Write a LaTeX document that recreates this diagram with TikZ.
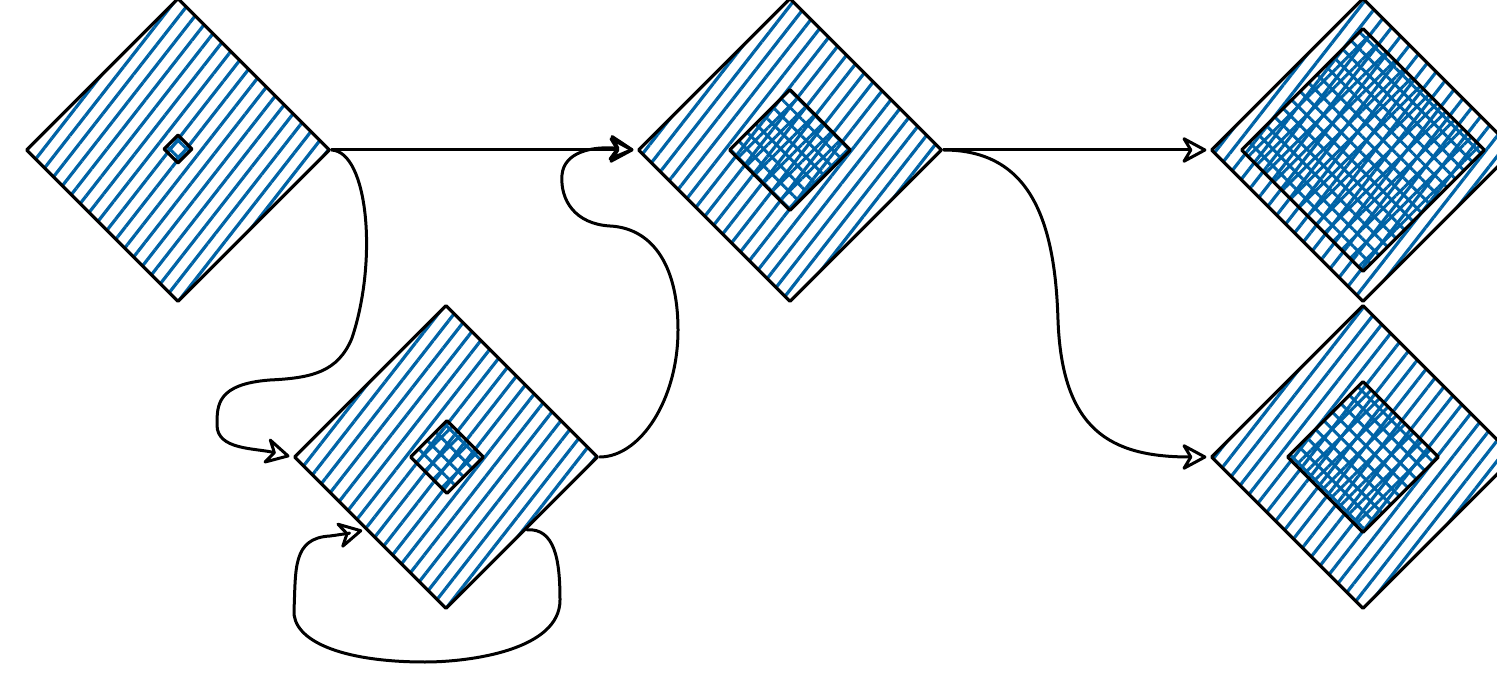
\documentclass[tikz,border=0pt]{standalone}
\usetikzlibrary{shapes.geometric,arrows.meta,patterns.meta}
\definecolor{hb}{RGB}{0,99,166}
\begin{document}
\begin{tikzpicture}[x=1pt,y=-1pt,
  outerbox/.style={diamond,aspect=1,minimum width=304pt,minimum height=304pt,inner sep=0pt,
    draw=black,line width=3.2pt,line join=round,
    pattern={Lines[angle=52,distance=12.5pt,line width=3.2pt]},pattern color=hb},
  innerbox/.style={diamond,aspect=1,inner sep=0pt,
    draw=black,line width=3.2pt,line join=round,
    pattern={Hatch[angle=45,distance=12pt,line width=3pt]},pattern color=hb},
  conn/.style={draw=black,line width=3pt,line cap=round,line join=round,shorten >=3pt,
    -{Stealth[open,round,length=28pt,width=30pt,inset=9pt]}}
]
\useasboundingbox (0,0) rectangle (1497,692);
% outer diamonds
\node[outerbox] (d1) at (178,150) {};
\node[outerbox] (d2) at (446,457) {};
\node[outerbox] (d3) at (790,150) {};
\node[outerbox] (d4) at (1363,150) {};
\node[outerbox] (d5) at (1363,457) {};
% inner diamonds
\node[innerbox,minimum width=29pt,minimum height=29pt] (i1) at (178,149) {};
\node[innerbox,minimum width=74pt,minimum height=74pt] (i2) at (447,457) {};
\node[innerbox,minimum width=122pt,minimum height=122pt] (i3) at (790,150) {};
\node[innerbox,minimum width=244pt,minimum height=244pt] (i4) at (1363,150) {};
\node[innerbox,minimum width=152pt,minimum height=152pt] (i5) at (1363,457) {};
% connectors
\draw[conn] (d1.east) -- (d3.west);
\draw[conn] (d1.east) .. controls (368,152) and (378,260) .. (352,338)
  .. controls (338,372) and (312,378) .. (270,380)
  .. controls (217,384) and (217,405) .. (217,425)
  .. controls (217,450) and (255,448) .. (d2.west);
\draw[conn] (d2.east) .. controls (640,457) and (678,400) .. (678,330)
  .. controls (678,262) and (650,228) .. (610,226)
  .. controls (575,224) and (560,200) .. (562,175)
  .. controls (564,152) and (592,146) .. (d3.west);
\draw[conn] (d2.-42) .. controls (555,528) and (560,560) .. (560,600)
  .. controls (560,650) and (470,662) .. (425,662)
  .. controls (340,662) and (292,640) .. (294,610)
  .. controls (296,570) and (292,538) .. (330,536)
  .. controls (345,534) and (355,532) .. (d2.-138);
\draw[conn] (d3.east) -- (d4.west);
\draw[conn] (d3.east) .. controls (1030,150) and (1055,220) .. (1058,320)
  .. controls (1062,430) and (1110,457) .. (d5.west);
\end{tikzpicture}
\end{document}
